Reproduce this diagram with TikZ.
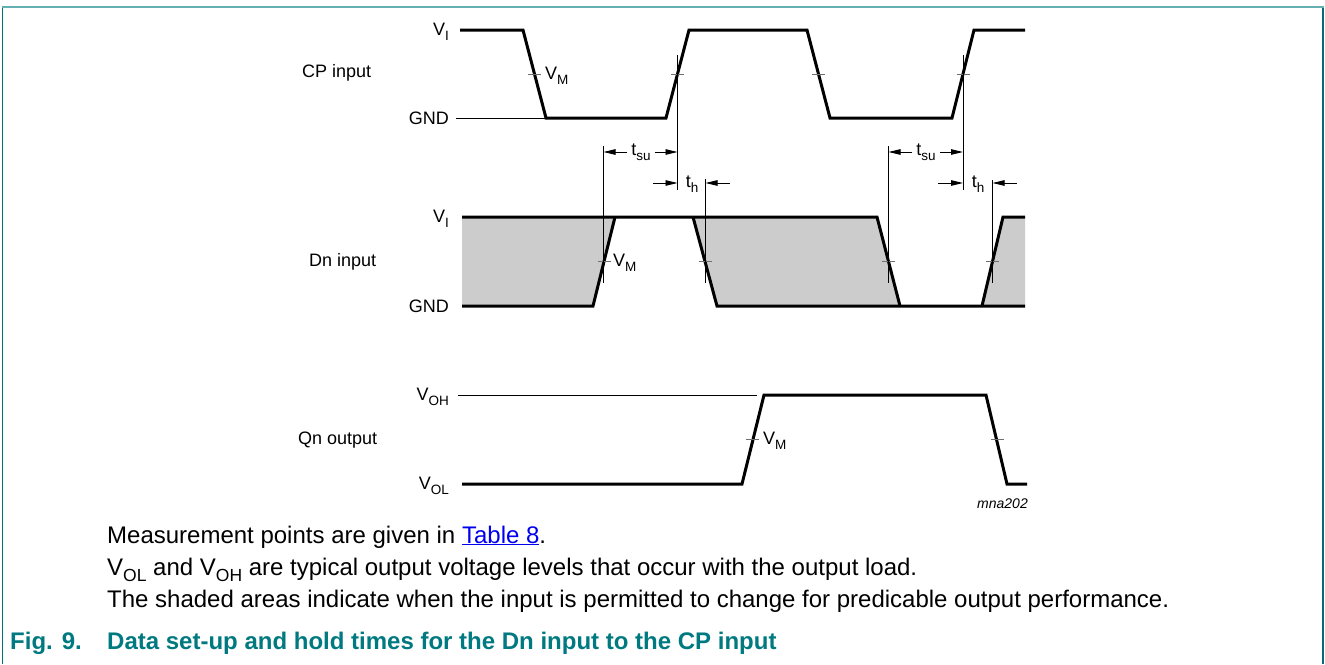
\documentclass[tikz,border=0pt]{standalone}
\usepackage{fontspec}
\setmainfont{Liberation Sans}
\usetikzlibrary{arrows.meta}
\definecolor{frametop}{RGB}{100,175,178}
\definecolor{frameside}{RGB}{0,110,120}
\definecolor{capteal}{RGB}{0,122,128}
\definecolor{shadegray}{RGB}{204,204,204}
\definecolor{linkblue}{RGB}{0,0,238}
\definecolor{tickgray}{RGB}{110,110,110}
\newcommand{\lsub}[1]{\raisebox{-0.3em}{\fontsize{13.5}{13.5}\selectfont #1}}
\newcommand{\tsub}[1]{\raisebox{-0.28em}{\fontsize{17.5}{17.5}\selectfont #1}}
\begin{document}
\begin{tikzpicture}[x=1pt,y=-1pt,
  wave/.style={line width=3pt},
  thinline/.style={line width=0.9pt},
  vmtick/.style={line width=0.8pt, draw=tickgray},
  dimarrow/.style={line width=0.9pt, -{Triangle[length=12pt,width=5.5pt]}},
  lbl/.style={font=\fontsize{18}{18}\selectfont, inner sep=0pt},
  bodytext/.style={font=\fontsize{24}{24}\selectfont, inner sep=0pt, anchor=base west},
  captext/.style={font=\fontsize{24}{24}\selectfont\bfseries, text=capteal, inner sep=0pt, anchor=base west},
]
\useasboundingbox (0,0) rectangle (1325,664);
\fill[white] (0,0) rectangle (1325,664);
% frame
\draw[frameside, line width=1.6pt] (2.5,7) -- (2.5,664);
\draw[frameside, line width=1.6pt] (1323,7) -- (1323,664);
\draw[frametop, line width=2pt] (2,7) -- (1324,7);

% ---------- CP input ----------
\node[lbl, anchor=west] (cpname) at (302,73) {CP input};
\node[lbl, anchor=base east] (cpvi) at (449,35) {V\lsub{I}};
\node[lbl, anchor=base east] (cpgnd) at (449,124.5) {GND};
\draw[thinline] (456,118) -- (546,118);
\draw[wave] (460,30) -- (523,30) -- (546,118) -- (666,118) -- (689,30) -- (807,30) -- (830,118) -- (952,118) -- (974,30) -- (1025,30);
\draw[vmtick] (528,74) -- (541,74);
\draw[vmtick] (671,74) -- (684,74);
\draw[vmtick] (812,74) -- (825,74);
\draw[vmtick] (956.5,74) -- (969.5,74);
\node[lbl, anchor=west] (cpvm) at (545,76) {V\lsub{M}};

% ---------- Dn input ----------
\node[lbl, anchor=west] (dnname) at (309,262) {Dn input};
\node[lbl, anchor=base east] (dnvi) at (449,222) {V\lsub{I}};
\node[lbl, anchor=base east] (dngnd) at (449,312.5) {GND};
\fill[shadegray] (462,217) -- (615,217) -- (593,306) -- (462,306) -- cycle;
\fill[shadegray] (693,217) -- (877,217) -- (900,306) -- (717,306) -- cycle;
\fill[shadegray] (1003,217) -- (1025,217) -- (1025,306) -- (982,306) -- cycle;
\draw[wave] (462,217) -- (877,217) -- (900,306);
\draw[wave] (462,306) -- (593,306) -- (615,217);
\draw[wave] (693,217) -- (717,306) -- (1025,306);
\draw[wave] (982,306) -- (1003,217) -- (1025,217);
\draw[vmtick] (597.5,261) -- (610.5,261);
\draw[vmtick] (698.5,261) -- (711.5,261);
\draw[vmtick] (882,261) -- (895,261);
\draw[vmtick] (986,261) -- (999,261);
\node[lbl, anchor=west] (dnvm) at (613,263) {V\lsub{M}};

% ---------- timing references ----------
\coordinate (v1t) at (603.5,146); \coordinate (v1b) at (603.5,283);
\coordinate (v2t) at (677.5,55);  \coordinate (v2b) at (677.5,190);
\coordinate (v3t) at (705.5,179); \coordinate (v3b) at (705.5,283);
\coordinate (v4t) at (888.5,146); \coordinate (v4b) at (888.5,283);
\coordinate (v5t) at (963,55);    \coordinate (v5b) at (963,190);
\coordinate (v6t) at (992.5,180); \coordinate (v6b) at (992.5,283);
\foreach \a in {1,...,6} {\draw[thinline] (v\a t) -- (v\a b);}

\node[lbl] (tsuA) at (641,152) {t\lsub{su}};
\draw[dimarrow] ([xshift=-4pt]tsuA.west) -- (tsuA.west -| v1t);
\draw[dimarrow] ([xshift=4pt]tsuA.east) -- (tsuA.east -| v2t);
\node[lbl] (thA) at (692,184) {t\lsub{h}};
\coordinate (thAl) at (653,183); \coordinate (thAr) at (730,183);
\draw[dimarrow] (thAl) -- (thAl -| v2t);
\draw[dimarrow] (thAr) -- (thAr -| v3t);

\node[lbl] (tsuB) at (926,152) {t\lsub{su}};
\draw[dimarrow] ([xshift=-4pt]tsuB.west) -- (tsuB.west -| v4t);
\draw[dimarrow] ([xshift=4pt]tsuB.east) -- (tsuB.east -| v5t);
\node[lbl] (thB) at (978,184) {t\lsub{h}};
\coordinate (thBl) at (938,183); \coordinate (thBr) at (1017,183);
\draw[dimarrow] (thBl) -- (thBl -| v5t);
\draw[dimarrow] (thBr) -- (thBr -| v6t);

% ---------- Qn output ----------
\node[lbl, anchor=west] (qnname) at (298,440) {Qn output};
\node[lbl, anchor=base east] (qnvoh) at (449,400) {V\lsub{OH}};
\node[lbl, anchor=base east] (qnvol) at (449,489) {V\lsub{OL}};
\draw[thinline] (458,395) -- (757,395);
\draw[wave] (462,484) -- (742,484) -- (764,395) -- (986,395) -- (1007,484) -- (1027,484);
\draw[vmtick] (745.5,439) -- (758.5,439);
\draw[vmtick] (990.5,439) -- (1003.5,439);
\node[lbl, anchor=west] (qnvm) at (763,441) {V\lsub{M}};
\node[font=\fontsize{14}{14}\selectfont\itshape, inner sep=0pt, anchor=base east] (mna) at (1028,508) {mna202};

% ---------- notes ----------
\node[bodytext] (note1) at (107,543) {Measurement points are given in \textcolor{linkblue}{\underline{Table 8}}.};
\node[bodytext] (note2) at (107,575) {V\tsub{OL} and V\tsub{OH} are typical output voltage levels that occur with the output load.};
\node[bodytext] (note3) at (107,607) {The shaded areas indicate when the input is permitted to change for predicable output performance.};
\node[captext] (fignum) at (10,649) {Fig. 9.};
\node[captext] (figcap) at (107,649) {Data set-up and hold times for the Dn input to the CP input};
\end{tikzpicture}
\end{document}
